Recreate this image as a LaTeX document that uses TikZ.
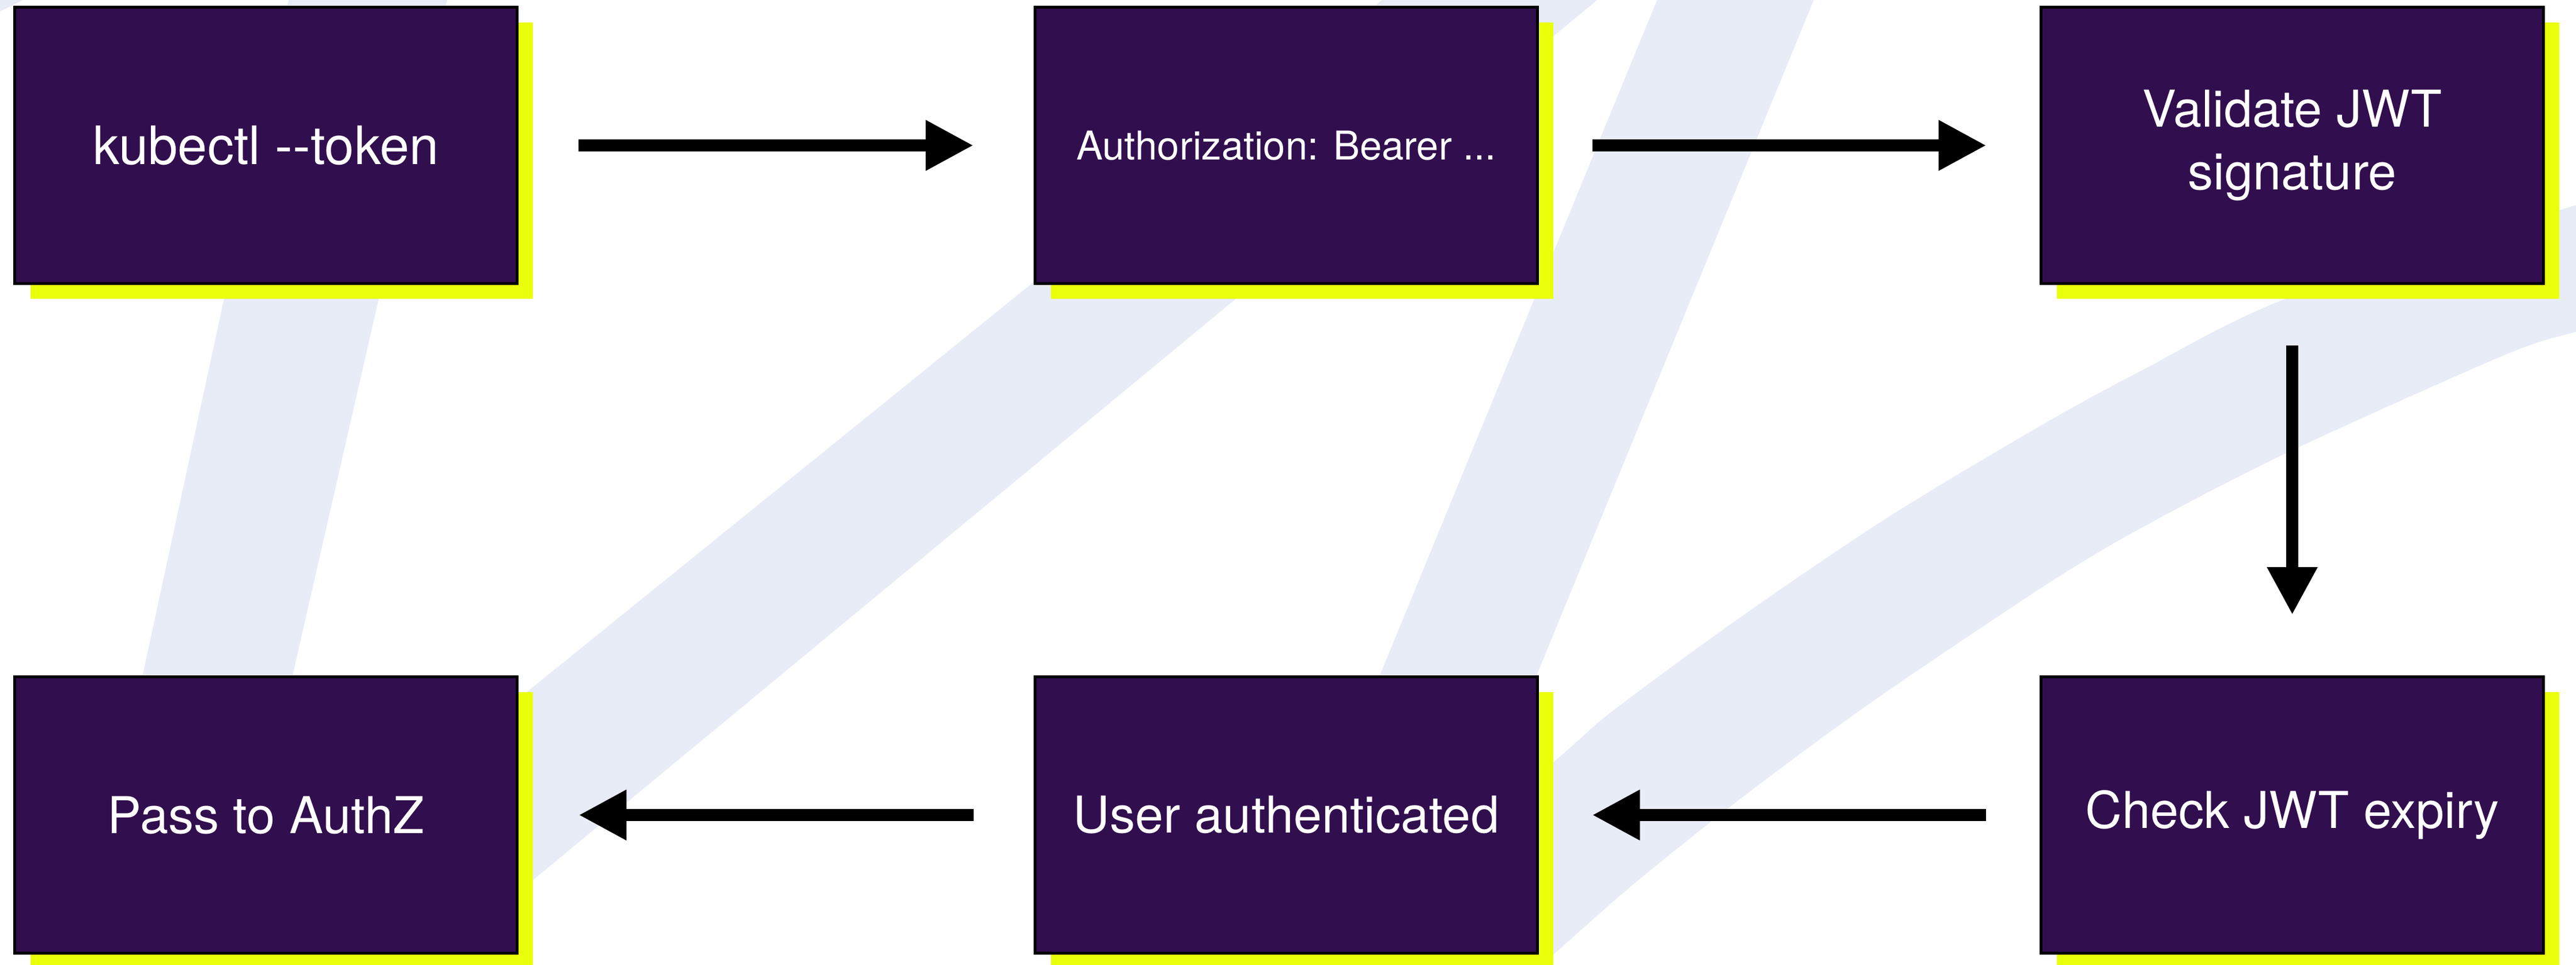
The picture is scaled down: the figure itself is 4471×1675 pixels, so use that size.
\documentclass[tikz,border=0pt]{standalone}
\usepackage{fontspec}
\newfontfamily\boxfont{TeX Gyre Heros}
\usetikzlibrary{arrows.meta,shadows}
\definecolor{boxfill}{HTML}{310E4E}
\definecolor{shadowy}{HTML}{EAFF0A}
\definecolor{stripe}{HTML}{E8ECF7}
\begin{document}
\begin{tikzpicture}[x=0.01cm,y=-0.01cm,
  flowbox/.style={rectangle, draw=black, line width=0.05cm, fill=boxfill, text=white,
    minimum width=8.72cm, minimum height=4.80cm, inner sep=0pt, align=center,
    font=\boxfont\fontsize{25.1}{31}\selectfont,
    general shadow={fill=shadowy, shadow xshift=0.275cm, shadow yshift=-0.265cm}},
  smalltext/.style={font=\boxfont\fontsize{19.6}{23}\selectfont},
  bigtext/.style={font=\boxfont\fontsize{26.2}{31}\selectfont},
  flowarrow/.style={line width=0.21cm, -{Triangle[length=0.83cm,width=0.82cm]}},
]
\useasboundingbox (0,0) rectangle (4471,1675);
\clip (0,0) rectangle (4471,1675);
% background stripes
\fill[stripe] (0,0) -- (40,0) -- (0,20) -- cycle;
\fill[stripe] (501,0) -- (776,0) -- (393,1675) -- (139,1675) -- cycle;
\fill[stripe] (2399,0) -- (2772,0) -- (748,1675) -- (330,1675) -- cycle;
\fill[stripe] (2876,0) -- (3148,0) -- (2461,1675) -- (2189,1675) -- cycle;
\fill[stripe] plot[smooth] coordinates {(2289,1675) (2696,1324) (2800,1234) (3025,1069) (3279,897) (3539,741) (3718,643) (3972,517) (4471,356) (4600,318)}
  -- plot[smooth] coordinates {(4600,540) (4471,576) (4346,617) (3972,785) (3718,916) (3549,1017) (3249,1219) (3025,1384) (2837,1534) (2696,1658) (2676,1675)} -- cycle;
% boxes
\node[flowbox, bigtext] (kubectl) at (461.5,252.5) {kubectl -\kern0pt-token};
\node[flowbox, smalltext] (auth) at (2232.5,252.5) {Authorization: Bearer ...};
\node[flowbox] (validate) at (3978.5,252.5) {Validate JWT\\signature};
\node[flowbox] (expiry) at (3978.5,1415.5) {Check JWT expiry};
\node[flowbox] (userauth) at (2232.5,1415.5) {User authenticated};
\node[flowbox] (pass) at (461.5,1415.5) {Pass to AuthZ};
% arrows
\draw[flowarrow, shorten <=1.04cm, shorten >=1.04cm] (kubectl) -- (auth);
\draw[flowarrow, shorten <=0.93cm, shorten >=0.92cm] (auth) -- (validate);
\draw[flowarrow, shorten <=1.05cm, shorten >=1.05cm] (validate) -- (expiry);
\draw[flowarrow, shorten <=0.93cm, shorten >=0.92cm] (expiry) -- (userauth);
\draw[flowarrow, shorten <=1.04cm, shorten >=1.04cm] (userauth) -- (pass);
\end{tikzpicture}
\end{document}
